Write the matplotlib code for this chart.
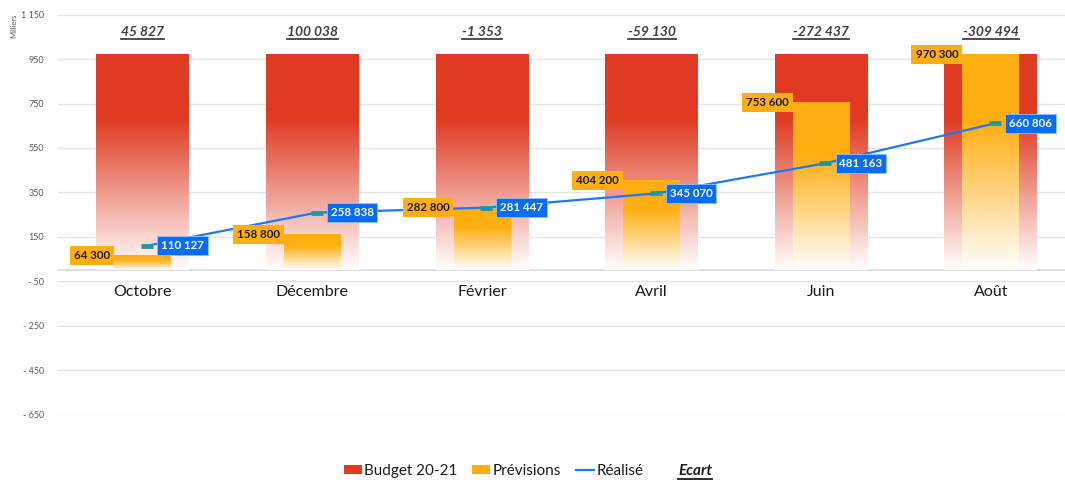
import numpy as np
import matplotlib
matplotlib.use("Agg")
import matplotlib.pyplot as plt
from matplotlib.colors import to_rgb
from matplotlib.lines import Line2D
from matplotlib.patches import Patch

plt.rcParams["font.family"] = ["Lato", "DejaVu Sans"]

# données (en euros ; l'axe est affiché en milliers)
mois = ["Octobre", "Décembre", "Février", "Avril", "Juin", "Août"]
budget = [970300, 970300, 970300, 970300, 970300, 970300]
previsions = [64300, 158800, 282800, 404200, 753600, 970300]
realise = [110127, 258838, 281447, 345070, 481163, 660806]

y_ticks = [-650, -450, -250, -50, 150, 350, 550, 750, 950, 1150]

ROUGE = "#E03B22"
ORANGE = "#FFAE12"
BLEU = "#1F78F2"
BLEU_BOITE = "#0A6CF2"
GRIS = "#404040"


def fmt_milliers(v):
    s = f"{abs(int(round(v))):,}".replace(",", " ")
    return ("-" if v < 0 else "") + s


def fmt_axe(v):
    s = f"{abs(int(v)):,}".replace(",", " ")
    return ("- " if v < 0 else "") + s


def gradient(couleur_haut, couleur_bas, plein, n=256):
    """Dégradé vertical : couleur pleine sur la part haute, puis fondu vers le bas."""
    t = np.linspace(0, 1, n)          # 0 = bas, 1 = haut
    f = 1 - t                          # distance depuis le haut
    w = np.clip((f - plein) / (1 - plein), 0, 1)[:, None]
    h = np.array(to_rgb(couleur_haut))[None, :]
    b = np.array(to_rgb(couleur_bas))[None, :]
    rgb = h * (1 - w) + b * w
    return rgb[:, None, :]


def barre_degrade(ax, x, hauteur, largeur, img, z):
    ax.imshow(img, extent=(x - largeur / 2, x + largeur / 2, 0, hauteur),
              origin="lower", aspect="auto", zorder=z, interpolation="bilinear")


fig = plt.figure(figsize=(10.65, 4.8), dpi=100)
ax = fig.add_axes([58 / 1065, 1 - 414.5 / 480, 1 - 58 / 1065, (414.5 - 14.7) / 480])

x = np.arange(len(mois))
b_k = np.array(budget) / 1000
p_k = np.array(previsions) / 1000
r_k = np.array(realise) / 1000
ecart = np.array(realise) - np.array(previsions)

larg_budget = 0.548
larg_prev = 0.336

img_budget = gradient(ROUGE, "#FFFFFF", 0.30)
img_prev = gradient(ORANGE, "#FFFFFF", 0.32)

for i in range(len(mois)):
    barre_degrade(ax, x[i], b_k[i], larg_budget, img_budget, 2)
    barre_degrade(ax, x[i], p_k[i], larg_prev, img_prev, 3)

# courbe du réalisé
xr = x + 0.025
ax.plot(xr, r_k, color=BLEU, lw=1.6, zorder=4)
ax.plot(xr, r_k, ls="none", marker="_", ms=8, mew=3.5, color="#1E98A8", zorder=5)

for i in range(len(mois)):
    ax.annotate(fmt_milliers(realise[i]), (xr[i], r_k[i]), xytext=(10, 0),
                textcoords="offset points", ha="left", va="center",
                fontsize=8.3, fontweight="bold", color="white", zorder=6,
                bbox=dict(boxstyle="square,pad=0.33", fc=BLEU_BOITE, ec="#8FC0FF", lw=0.6))
    ax.annotate(fmt_milliers(previsions[i]), (x[i] - larg_prev / 2, p_k[i]), xytext=(-3, 0),
                textcoords="offset points", ha="right", va="center",
                fontsize=8.3, fontweight="bold", color="#1A1A1A", zorder=6,
                bbox=dict(boxstyle="square,pad=0.35", fc=ORANGE, ec="none"))
    ax.annotate(mois[i], (x[i], 0), xytext=(0, -15.5), textcoords="offset points",
                ha="center", va="center", fontsize=11.5, color="#1A1A1A")

textes_ecart = []
for i in range(len(mois)):
    t = ax.text(x[i], 1070, fmt_milliers(ecart[i]), ha="center", va="center",
                fontsize=10, fontweight="bold", fontstyle="italic", color=GRIS, zorder=6)
    textes_ecart.append(t)

# axes et grille
ax.set_xlim(-0.5, -0.5 + (1065 - 58) / 169.6)
ax.set_ylim(-650, 1150)
ax.set_yticks(y_ticks)
ax.set_yticklabels([fmt_axe(v) for v in y_ticks], fontsize=6.5, color="#595959")
ax.set_xticks([])
ax.tick_params(axis="y", length=0, pad=10)
ax.yaxis.grid(True, color="#E4E4E4", lw=1)
ax.set_axisbelow(True)
ax.axhline(0, color="#D9D9D9", lw=1.2, zorder=1)
for s in ax.spines.values():
    s.set_visible(False)

fig.text(14 / 1065, 1 - 26 / 480, "Milliers", rotation=90, ha="center", va="center",
         fontsize=5.5, color="#595959")

# légende
poignees = [
    Patch(facecolor=ROUGE, edgecolor="none"),
    Patch(facecolor=ORANGE, edgecolor="none"),
    Line2D([], [], color=BLEU, lw=1.6),
    Patch(facecolor="none", edgecolor="none"),
]
leg = fig.legend(poignees, ["Budget 20-21", "Prévisions", "Réalisé", "Ecart"],
                 loc="center", bbox_to_anchor=(528 / 1065, 1 - 471 / 480), ncol=4,
                 frameon=False, fontsize=11, handlelength=1.2, handleheight=0.55,
                 handletextpad=0.15, columnspacing=0.95)
for t in leg.get_texts():
    t.set_color("#1A1A1A")
txt_ecart_leg = leg.get_texts()[3]
txt_ecart_leg.set_fontweight("bold")
txt_ecart_leg.set_fontstyle("italic")

# soulignement des écarts
fig.canvas.draw()
rend = fig.canvas.get_renderer()
inv = fig.transFigure.inverted()
for t in textes_ecart + [txt_ecart_leg]:
    bb = t.get_window_extent(rend)
    (x0, y0), (x1, _) = inv.transform([(bb.x0, bb.y0 - 0.5), (bb.x1, bb.y0 - 0.5)])
    fig.add_artist(Line2D([x0, x1], [y0, y0], transform=fig.transFigure,
                          color=GRIS if t is not txt_ecart_leg else "#1A1A1A", lw=1.3))

fig.savefig("out.png", dpi=100)
